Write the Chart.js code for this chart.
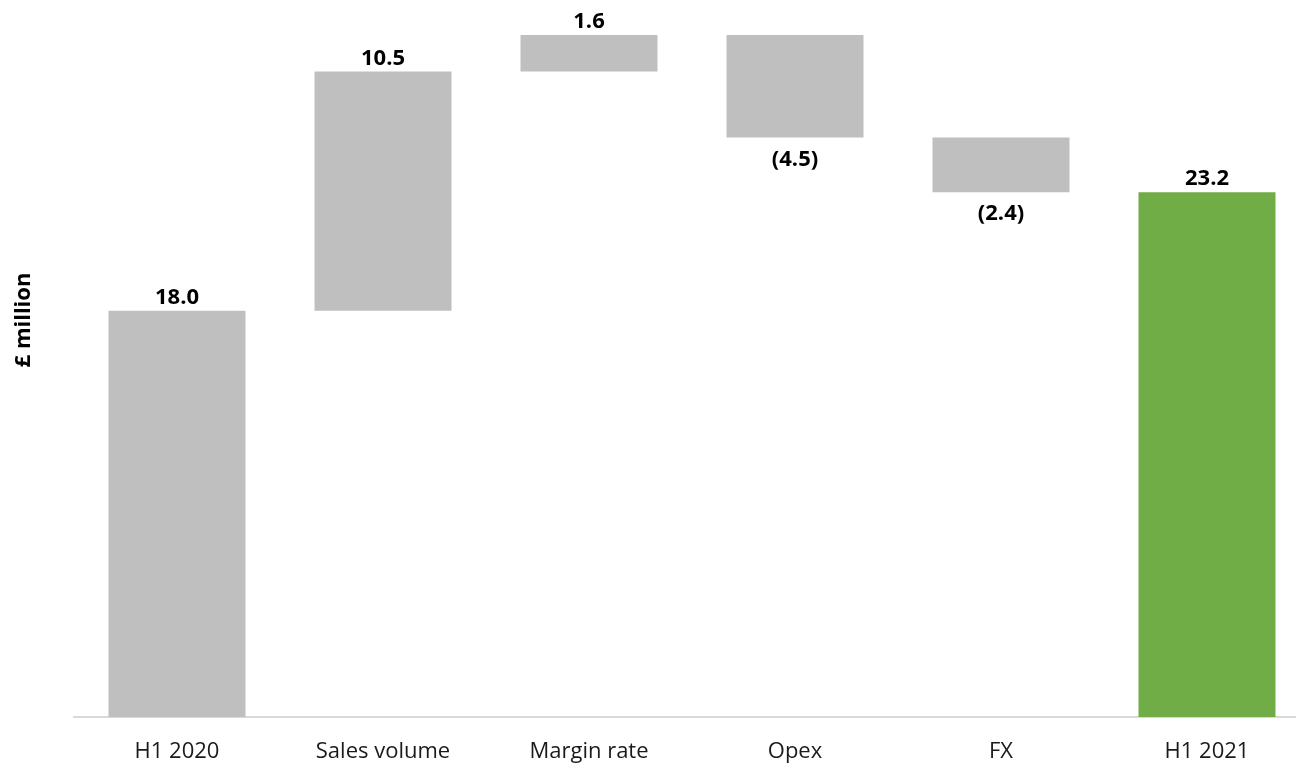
<!DOCTYPE html>
<html>
<head>
<meta charset="utf-8">
<script src="https://cdn.jsdelivr.net/npm/chart.js@4.4.1/dist/chart.umd.min.js"></script>
<style>
html,body{margin:0;padding:0;background:#fff;overflow:hidden;}
#wrap{width:1310px;height:767px;position:relative;}
</style>
</head>
<body>
<div id="wrap"><canvas id="c"></canvas></div>
<script>
const categories = ["H1 2020", "Sales volume", "Margin rate", "Opex", "FX", "H1 2021"];
const changes = [18.0, 10.5, 1.6, -4.5, -2.4, 23.2];
const isTotal = [true, false, false, false, false, true];
const valueLabels = ["18.0", "10.5", "1.6", "(4.5)", "(2.4)", "23.2"];
const barColors = ["#bfbfbf", "#bfbfbf", "#bfbfbf", "#bfbfbf", "#bfbfbf", "#70ad47"];
const yAxisTitle = "£ million";

// build floating ranges from the changes
const ranges = [];
let running = 0;
changes.forEach((v, i) => {
  if (isTotal[i]) { ranges.push([0, v]); running = v; }
  else { const a = running, b = running + v; ranges.push([Math.min(a,b), Math.max(a,b)]); running = b; }
});

const labelPlugin = {
  id: 'wfLabels',
  afterDatasetsDraw(chart) {
    const ctx = chart.ctx;
    const meta = chart.getDatasetMeta(0);
    ctx.save();
    ctx.font = 'bold 22px "Open Sans"';
    ctx.fillStyle = '#000';
    ctx.textAlign = 'center';
    ctx.textBaseline = 'alphabetic';
    meta.data.forEach((bar, i) => {
      const top = Math.min(bar.y, bar.base);
      const bottom = Math.max(bar.y, bar.base);
      if (changes[i] >= 0) ctx.fillText(valueLabels[i], bar.x, top - 7);
      else ctx.fillText(valueLabels[i], bar.x, bottom + 28);
    });
    // y axis title
    ctx.translate(24, 320);
    ctx.rotate(-Math.PI / 2);
    ctx.font = 'bold 22px "Open Sans"';
    ctx.textBaseline = 'middle';
    ctx.fillText(yAxisTitle, 0, 0);
    ctx.restore();
  }
};

new Chart(document.getElementById('c'), {
  type: 'bar',
  data: {
    labels: categories,
    datasets: [{
      data: ranges,
      backgroundColor: barColors,
      borderWidth: 0,
      barPercentage: 0.665,
      categoryPercentage: 1.0
    }]
  },
  options: {
    responsive: true,
    maintainAspectRatio: false,
    animation: false,
    layout: { padding: { top: 18, left: 74, right: 0, bottom: 0 } },
    plugins: { legend: { display: false }, tooltip: { enabled: false } },
    scales: {
      x: {
        grid: { display: false, drawTicks: false },
        border: { display: true, color: '#d9d9d9', width: 2 },
        ticks: { color: '#1a1a1a', font: { family: '"Open Sans"', size: 22 }, padding: 22, maxRotation: 0 },
        afterFit(axis) { axis.height = 50; }
      },
      y: {
        display: false,
        min: 0.17,
        max: 30.85
      }
    }
  },
  plugins: [labelPlugin]
});
</script>
</body>
</html>
